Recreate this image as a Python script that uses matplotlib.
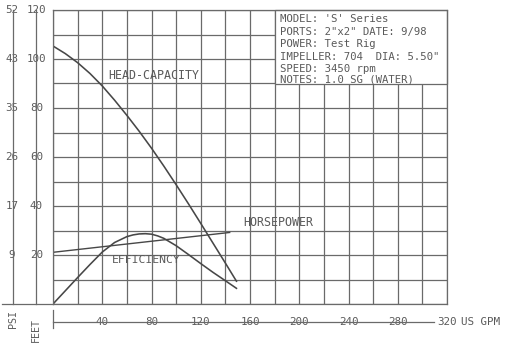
import matplotlib
matplotlib.use("Agg")
import matplotlib.pyplot as plt
from matplotlib.patches import Rectangle
from matplotlib.lines import Line2D
from matplotlib.transforms import blended_transform_factory

# ---- data ----
head_gpm = [0, 10, 20, 30, 40, 50, 60, 70, 80, 90, 100, 110, 120, 130, 140, 149]
head_ft = [105.3, 102.2, 98.5, 94.1, 89, 83.2, 77, 70.5, 63.6, 56.3, 48.7,
           40.9, 32.9, 24.8, 16.7, 9.3]

eff_gpm = [0, 10, 20, 30, 40, 50, 60, 65, 70, 75, 80, 85, 90, 100, 110, 120, 130, 140, 149]
eff_ft = [0, 5.4, 10.8, 16.1, 21.2, 25.1, 27.5, 28.2, 28.6, 28.7, 28.5, 27.8, 26.8,
          23.8, 20.2, 16.5, 12.9, 9.5, 6.4]

hp_gpm = [0, 143.5]
hp_ft = [21.1, 29.2]

feet_ticks = [20, 40, 60, 80, 100, 120]
psi_labels = ["9", "17", "26", "35", "43", "52"]
gpm_ticks = [40, 80, 120, 160, 200, 240, 280, 320]

info_lines = [
    "MODEL: 'S' Series",
    "PORTS: 2\"x2\" DATE: 9/98",
    "POWER: Test Rig",
    "IMPELLER: 704  DIA: 5.50\"",
    "SPEED: 3450 rpm",
    "NOTES: 1.0 SG (WATER)",
]

W, H = 509, 347
GRID = "#6a6a6a"
INK = "#474747"
TXT = "#5a5a5a"
FONT = "DejaVu Sans Mono"

fig = plt.figure(figsize=(W / 100, H / 100), dpi=100)
fig.patch.set_facecolor("white")


def fx(x):
    return x / W


def fy(y):
    return 1 - y / H


ax = fig.add_axes([fx(53), fy(304), (447 - 53) / W, (304 - 10) / H])
ax.set_xlim(0, 320)
ax.set_ylim(0, 120)
ax.set_xticks(range(0, 321, 20))
ax.set_yticks(range(0, 121, 10))
ax.tick_params(length=0, labelbottom=False, labelleft=False)
ax.set_axisbelow(True)
ax.grid(True, color=GRID, lw=0.9)
for s in ax.spines.values():
    s.set_color(GRID)
    s.set_linewidth(0.9)

# info box
ax.add_patch(Rectangle((180, 90), 140, 30, facecolor="white", edgecolor=GRID,
                       lw=0.9, zorder=1.5, clip_on=False))
info_y = [116.3, 111.0, 106.1, 100.8, 95.9, 91.5]
for t, yv in zip(info_lines, info_y):
    ax.text(184, yv, t, fontsize=7.7, family=FONT, color=TXT, va="center",
            ha="left", zorder=3)

# curves
ax.plot(head_gpm, head_ft, color=INK, lw=1.15, zorder=2, solid_joinstyle="round")
ax.plot(eff_gpm, eff_ft, color=INK, lw=1.15, zorder=2, solid_joinstyle="round")
ax.plot(hp_gpm, hp_ft, color=INK, lw=1.0, zorder=2)

ax.text(81.6, 93.1, "HEAD-CAPACITY", fontsize=8.4, family=FONT, color=TXT,
        ha="center", va="center")
ax.text(76, 17.9, "EFFICIENCY", fontsize=8.2, family=FONT, color=TXT,
        ha="center", va="center")
ax.text(154.5, 33.3, "HORSEPOWER", fontsize=8.4, family=FONT, color=TXT,
        ha="left", va="center")

# left scales
tr_left = blended_transform_factory(fig.transFigure, ax.transData)
for xp in (13, 36):
    fig.add_artist(Line2D([fx(xp), fx(xp)], [fy(10), fy(304)], color=GRID, lw=0.9))
fig.add_artist(Line2D([fx(2), fx(53)], [fy(304), fy(304)], color=GRID, lw=0.9))
for ft, psi in zip(feet_ticks, psi_labels):
    ax.text(fx(12), ft, psi, transform=tr_left, fontsize=7.8, family=FONT,
            color=TXT, ha="center", va="center", clip_on=False,
            bbox=dict(facecolor="white", edgecolor="none", pad=1.2))
    ax.text(fx(36.5), ft, str(ft), transform=tr_left, fontsize=7.8, family=FONT,
            color=TXT, ha="center", va="center", clip_on=False,
            bbox=dict(facecolor="white", edgecolor="none", pad=1.2))

fig.text(fx(13), fy(319.5), "PSI", rotation=90, fontsize=7.2, family=FONT,
         color=TXT, ha="center", va="center")
fig.text(fx(35.5), fy(329.5), "FEET", rotation=90, fontsize=7.2, family=FONT,
         color=TXT, ha="center", va="center")

# bottom scale
tr_bot = blended_transform_factory(ax.transData, fig.transFigure)
fig.add_artist(Line2D([fx(53), fx(53)], [fy(310), fy(328)], color=GRID, lw=0.9))
fig.add_artist(Line2D([fx(53), fx(434)], [fy(322), fy(322)], color=GRID, lw=0.9))
for g in gpm_ticks:
    ax.text(g, fy(322), str(g), transform=tr_bot, fontsize=7.8, family=FONT,
            color=TXT, ha="center", va="center", clip_on=False,
            bbox=dict(facecolor="white", edgecolor="none", pad=2.5))
fig.text(fx(461), fy(322), "US GPM", fontsize=7.8, family=FONT, color=TXT,
         ha="left", va="center")

fig.savefig("out.png", dpi=100, facecolor="white")
